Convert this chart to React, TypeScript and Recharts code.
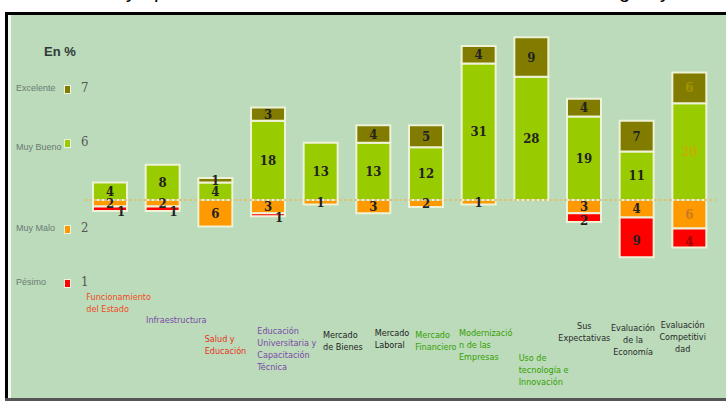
import React from "react";
import { BarChart, Bar, XAxis, YAxis, ReferenceLine, LabelList } from "recharts";

// categories and their wrapped label lines
const categories = [
  "Funcionamiento del Estado",
  "Infraestructura",
  "Salud y Educación",
  "Educación Universitaria y Capacitación Técnica",
  "Mercado de Bienes",
  "Mercado Laboral",
  "Mercado Financiero",
  "Modernización de las Empresas",
  "Uso de tecnología e Innovación",
  "Sus Expectativas",
  "Evaluación de la Economía",
  "Evaluación Competitividad",
];
const categoryLines = [
  ["Funcionamiento", "del Estado"],
  ["Infraestructura"],
  ["Salud y", "Educación"],
  ["Educación", "Universitaria y", "Capacitación", "Técnica"],
  ["Mercado", "de Bienes"],
  ["Mercado", "Laboral"],
  ["Mercado", "Financiero"],
  ["Modernizació", "n de las", "Empresas"],
  ["Uso de", "tecnología e", "Innovación"],
  ["Sus", "Expectativas"],
  ["Evaluación", "de la", "Economía"],
  ["Evaluación", "Competitivi", "dad"],
];

// series values (% of answers)
const muyBueno = [4, 8, 4, 18, 13, 13, 12, 31, 28, 19, 11, 22];
const excelente = [null, null, 1, 3, null, 4, 5, 4, 9, 4, 7, 7];
const muyMalo = [1.5, 1.5, 6, 3, 1, 3, 1.6, 1, null, 3, 4, 6.5];
const pesimo = [1, 1, null, 0.7, null, null, null, null, null, 2, 9, 4.3];

// printed numbers inside the segments
const muyBuenoLabels = ["4", "8", "4", "18", "13", "13", "12", "31", "28", "19", "11", "20"];
const excelenteLabels = ["", "", "1", "3", "", "4", "5", "4", "9", "4", "7", "6"];
const muyMaloLabels = ["2", "2", "6", "3", "1", "3", "2", "1", "", "3", "4", "6"];
const pesimoLabels = ["1", "1", "", "1", "", "", "", "", "", "2", "9", "4"];

// left legend: name and rank number
const legendNames = ["Excelente", "Muy Bueno", "Muy Malo", "Pésimo"];
const legendRanks = ["7", "6", "2", "1"];

const COLORS = {
  excelente: "#817c00",
  muyBueno: "#99cc00",
  muyMalo: "#ff9900",
  pesimo: "#ff0000",
};

const legendColors = [COLORS.excelente, COLORS.muyBueno, COLORS.muyMalo, COLORS.pesimo];
const legendY = [89, 143, 229, 283];

// category label styling (offset from bar centre, first line y, colour)
const catColor = ["#f04a22", "#7b4aa6", "#e8321c", "#7b4aa6", "#1e1e1e", "#1e1e1e", "#35a000", "#35a000", "#35a000", "#2a2a2a", "#2a2a2a", "#2a2a2a"];
const catDx = [-24, -17, -11, -11, 2, 1, -11, -20, -13, 0, -4, -7];
const catAnchor = ["start", "start", "start", "start", "start", "start", "start", "start", "start", "middle", "middle", "middle"];
const catTop = [297, 320, 339, 331, 335, 333, 335, 333, 358, 326, 328, 325];

const data = categories.map((c, i) => ({
  name: c,
  muyBueno: muyBueno[i],
  excelente: excelente[i],
  muyMalo: muyMalo[i] == null ? null : -(muyMalo[i] as number),
  pesimo: pesimo[i] == null ? null : -(pesimo[i] as number),
}));

const CategoryTick = (props: any) => {
  const { x, payload } = props;
  const i = payload.index;
  const lines = categoryLines[i] || [];
  return (
    <g>
      {lines.map((l, k) => (
        <text
          key={k}
          x={x + catDx[i]}
          y={catTop[i] + k * 12.3}
          textAnchor={catAnchor[i] as any}
          dominantBaseline="middle"
          fill={catColor[i]}
          fontSize={9}
          fontFamily="'Liberation Sans Narrow', 'DejaVu Sans Condensed', sans-serif"
        >
          {l}
        </text>
      ))}
    </g>
  );
};

// LabelList only sees the non-empty entries, so map back to the category index
const makeLabel = (values: (number | null)[], labels: string[], lastColor: string, isPesimo = false) => {
  const idx = values.map((v, i) => (v != null ? i : -1)).filter((i) => i >= 0);
  return (props: any) => {
    const { x, y, width, height, index } = props;
    const ci = idx[index];
    const txt = labels[ci];
    if (!txt) return null;
    let cx = x + width / 2;
    let cy = y + height / 2;
    if (isPesimo) {
      cy += 3;
      if (txt === "1") cx += 11;
    }
    return (
      <text
        x={cx}
        y={cy}
        textAnchor="middle"
        dominantBaseline="central"
        fill={ci === categories.length - 1 ? lastColor : "#222"}
        fontSize={13}
        fontWeight="bold"
        fontFamily="'DejaVu Serif Condensed', 'Liberation Serif', serif"
      >
        {txt}
      </text>
    );
  };
};

const barStroke = "#eef2d6";

export default function App() {
  return (
    <div style={{ position: "fixed", left: 0, top: 0, width: 726, height: 401, background: "#fff", overflow: "hidden", fontFamily: "'Liberation Sans', sans-serif" }}>
      {/* cut-off title descenders */}
      <div style={{ position: "absolute", top: -19, left: 0, width: 726, height: 30, fontSize: 20, lineHeight: "20px", color: "#000" }}>
        <span style={{ position: "absolute", left: 126 }}>y</span>
        <span style={{ position: "absolute", left: 154 }}>p</span>
        <span style={{ position: "absolute", left: 619 }}>g</span>
        <span style={{ position: "absolute", left: 660 }}>y</span>
      </div>
      {/* frame */}
      <div style={{ position: "absolute", left: 5, top: 12, width: 721, height: 3, background: "#000" }} />
      <div style={{ position: "absolute", left: 5, top: 12, width: 3, height: 389, background: "#000" }} />
      <div style={{ position: "absolute", left: 8, top: 15, width: 718, height: 383, background: "#f4f8f2" }} />
      <div style={{ position: "absolute", left: 11, top: 15, width: 715, height: 383, background: "#bbdbbb" }} />
      <div style={{ position: "absolute", left: 5, top: 398, width: 721, height: 3, background: "#555" }} />

      {/* left legend */}
      <div style={{ position: "absolute", left: 44, top: 44, fontSize: 13, fontWeight: "bold", color: "#2f3a36" }}>En %</div>
      {legendNames.map((n, i) => (
        <React.Fragment key={n}>
          <div style={{ position: "absolute", left: 16, top: legendY[i] - 6 + (i === 1 ? 5 : 0), fontSize: 9, color: "#6a7a72", fontFamily: "'Liberation Sans Narrow', sans-serif" }}>{n}</div>
          <div style={{ position: "absolute", left: 64, top: legendY[i] - 4, width: 5, height: 7, background: legendColors[i], border: "1px solid #eef3e0" }} />
          <div style={{ position: "absolute", left: 81, top: legendY[i] - 9, fontSize: 13, color: "#555", fontFamily: "'DejaVu Serif Condensed', serif" }}>{legendRanks[i]}</div>
        </React.Fragment>
      ))}

      <div style={{ position: "absolute", left: 0, top: 0 }}>
        <BarChart
          width={726}
          height={401}
          data={data}
          stackOffset="sign"
          margin={{ top: 24, right: 10, bottom: 0, left: 84 }}
        >
          <XAxis dataKey="name" axisLine={false} tickLine={false} height={135} interval={0} tick={<CategoryTick />} />
          <YAxis hide domain={[-15, 40]} allowDataOverflow />
          <Bar dataKey="muyBueno" stackId="a" fill={COLORS.muyBueno} stroke={barStroke} strokeWidth={2} barSize={34} isAnimationActive={false}>
            <LabelList dataKey="muyBueno" content={makeLabel(muyBueno, muyBuenoLabels, "#c2b000")} />
          </Bar>
          <Bar dataKey="excelente" stackId="a" fill={COLORS.excelente} stroke={barStroke} strokeWidth={2} barSize={34} isAnimationActive={false}>
            <LabelList dataKey="excelente" content={makeLabel(excelente, excelenteLabels, "#a49400")} />
          </Bar>
          <Bar dataKey="muyMalo" stackId="a" fill={COLORS.muyMalo} stroke={barStroke} strokeWidth={2} barSize={34} isAnimationActive={false}>
            <LabelList dataKey="muyMalo" content={makeLabel(muyMalo, muyMaloLabels, "#c87a20")} />
          </Bar>
          <Bar dataKey="pesimo" stackId="a" fill={COLORS.pesimo} stroke={barStroke} strokeWidth={2} barSize={34} isAnimationActive={false}>
            <LabelList dataKey="pesimo" content={makeLabel(pesimo, pesimoLabels, "#a00000", true)} />
          </Bar>
          <ReferenceLine y={0} stroke="#d8c67e" strokeWidth={2} strokeDasharray="3 2" />
        </BarChart>
      </div>
    </div>
  );
}
